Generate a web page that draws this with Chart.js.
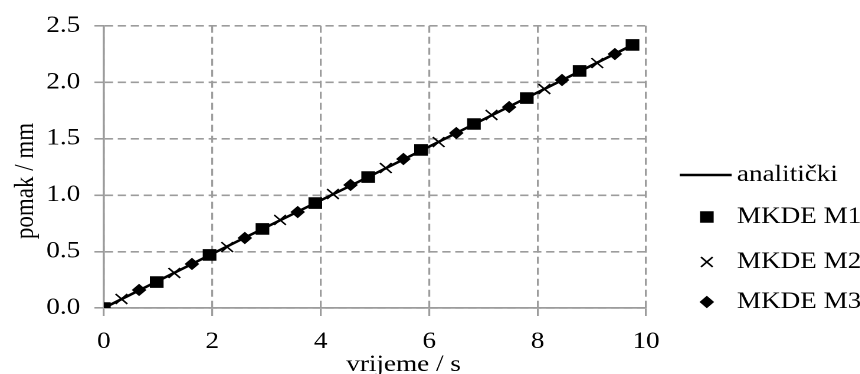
<!DOCTYPE html>
<html>
<head>
<meta charset="utf-8">
<script src="https://cdn.jsdelivr.net/npm/chart.js@4.4.1/dist/chart.umd.min.js"></script>
<style>
  html, body { margin: 0; padding: 0; background: #fff; overflow: hidden; }
  /* the source picture is stretched horizontally, so is this one */
  #wrap { width: 729px; height: 374px; transform: scaleX(1.18); transform-origin: 0 0; }
</style>
</head>
<body>
<div id="wrap"><canvas id="c" width="729" height="374"></canvas></div>
<script>
const xTitle = "vrijeme / s";
const yTitle = "pomak / mm";

const anaTime = [0, 2.5, 5, 7.5, 9.75];
const anaDisp = [0, 0.60, 1.19, 1.79, 2.33];

const m1Time = [0, 0.975, 1.95, 2.925, 3.9, 4.875, 5.85, 6.825, 7.8, 8.775, 9.75];
const m1Disp = [0, 0.23, 0.47, 0.70, 0.93, 1.16, 1.40, 1.63, 1.86, 2.10, 2.33];

const m2Time = [0.325, 1.3, 2.275, 3.25, 4.225, 5.2, 6.175, 7.15, 8.125, 9.1];
const m2Disp = [0.08, 0.31, 0.54, 0.78, 1.01, 1.24, 1.47, 1.71, 1.94, 2.17];

const m3Time = [0.65, 1.625, 2.6, 3.575, 4.55, 5.525, 6.5, 7.475, 8.45, 9.425];
const m3Disp = [0.16, 0.39, 0.62, 0.85, 1.09, 1.32, 1.55, 1.78, 2.02, 2.25];

const FONT = '"Liberation Serif", "Times New Roman", serif';
const GRID = "#9c9c9c";

const pts = (t, v) => t.map((x, i) => ({ x: x, y: v[i] }));

// legend drawn by hand on the right, like the spreadsheet one
const sideLegend = {
  id: "sideLegend",
  afterDraw(chart) {
    const ctx = chart.ctx;
    const rows = [175, 217, 262, 302];
    ctx.save();
    ctx.fillStyle = "#000";
    ctx.strokeStyle = "#000";
    ctx.font = "23px " + FONT;

    // axis titles
    ctx.textAlign = "center";
    ctx.textBaseline = "alphabetic";
    ctx.fillText(xTitle, 342, 371);
    ctx.save();
    ctx.translate(22, 181);
    ctx.rotate(-Math.PI / 2);
    ctx.textBaseline = "middle";
    ctx.fillText(yTitle, 0, 0);
    ctx.restore();

    chart.data.datasets.forEach((ds, i) => {
      const y = rows[i];
      if (ds.showLine) {
        ctx.lineWidth = 2.5;
        ctx.beginPath();
        ctx.moveTo(576, y);
        ctx.lineTo(620, y);
        ctx.stroke();
      } else {
        ctx.lineWidth = ds.pointBorderWidth;
        Chart.helpers.drawPoint(ctx, {
          pointStyle: ds.pointStyle,
          radius: ds.pointRadius,
          rotation: 0,
          borderWidth: ds.pointBorderWidth
        }, 599, y);
      }
      ctx.textAlign = "left";
      ctx.textBaseline = "middle";
      ctx.fillText(ds.label, 624.5, y);
    });
    ctx.restore();
  }
};

new Chart(document.getElementById("c"), {
  type: "scatter",
  data: {
    datasets: [
      {
        label: "analitički",
        data: pts(anaTime, anaDisp),
        showLine: true,
        borderColor: "#000",
        borderWidth: 2.5,
        pointRadius: 0,
        order: 4
      },
      {
        label: "MKDE M1",
        data: pts(m1Time, m1Disp),
        pointStyle: "rect",
        pointRadius: 7.5,
        pointBorderWidth: 1,
        backgroundColor: "#000",
        borderColor: "#000"
      },
      {
        label: "MKDE M2",
        data: pts(m2Time, m2Disp),
        pointStyle: "crossRot",
        pointRadius: 7,
        pointBorderWidth: 1.5,
        backgroundColor: "#000",
        borderColor: "#000"
      },
      {
        label: "MKDE M3",
        data: pts(m3Time, m3Disp),
        pointStyle: "rectRot",
        pointRadius: 5.5,
        pointBorderWidth: 1,
        backgroundColor: "#000",
        borderColor: "#000"
      }
    ]
  },
  options: {
    responsive: false,
    animation: false,
    devicePixelRatio: 2,
    layout: { padding: { top: 24, right: 181.5, left: 0, bottom: 0 } },
    plugins: {
      legend: { display: false },
      tooltip: { enabled: false }
    },
    scales: {
      x: {
        type: "linear",
        min: 0,
        max: 10,
        afterFit: (s) => { s.height = 66; },
        ticks: { stepSize: 2, color: "#000", font: { family: FONT, size: 23 }, padding: 12 },
        grid: { color: GRID, lineWidth: 1.6, tickLength: 8 },
        border: { display: true, color: GRID, width: 1.8, dash: [7, 4] }
      },
      y: {
        min: 0,
        max: 2.5,
        afterFit: (s) => { s.width = 88; },
        ticks: {
          stepSize: 0.5,
          color: "#000",
          font: { family: FONT, size: 23 },
          padding: 12,
          callback: (v) => v.toFixed(1)
        },
        grid: { color: GRID, lineWidth: 1.6, tickLength: 8 },
        border: { display: true, color: GRID, width: 1.8, dash: [7, 4] }
      }
    }
  },
  plugins: [sideLegend]
});
</script>
</body>
</html>
